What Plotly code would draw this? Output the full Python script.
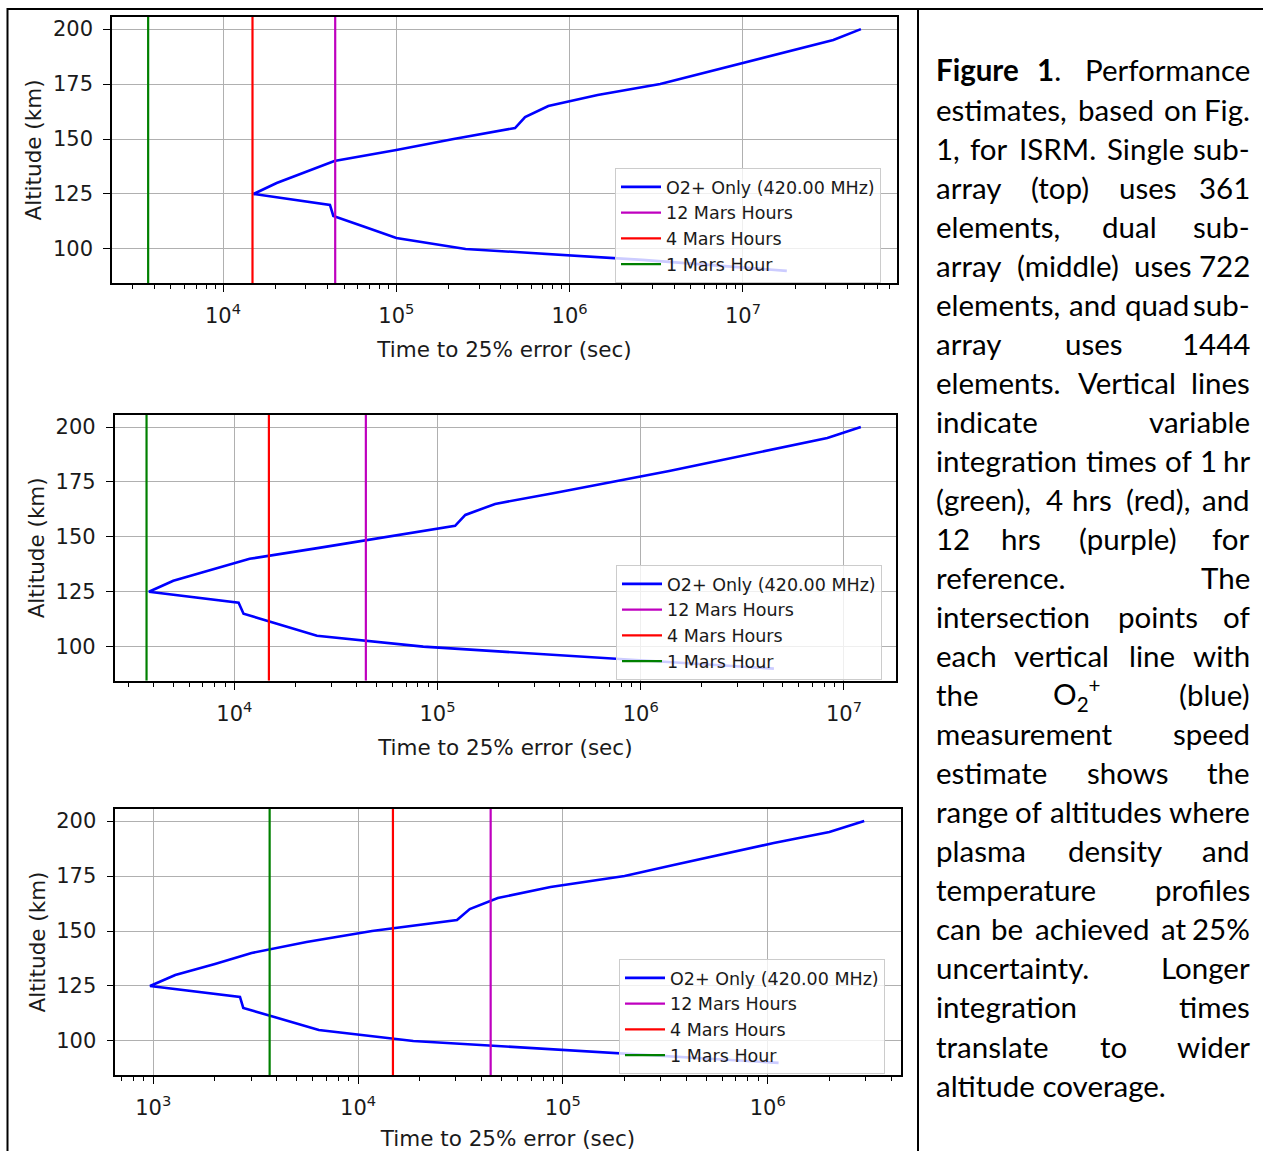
import re
import plotly.graph_objects as go

W, H = 1263, 1151

# ---------------- data ----------------
altitude_km = [90, 95, 100, 105, 110, 115, 120, 125, 130, 135, 140, 145,
               150, 155, 160, 165, 170, 175, 180, 185, 190, 195, 200]

# Time to 25% error (sec) for the three sub-array configurations
time_single_s = [1.79e7, 2.63e6, 2.51e5, 1.0e5, 6.6e4, 4.33e4, 4.14e4, 1.50e4,
                 2.04e4, 3.02e4, 4.39e4, 1.0e5, 2.14e5, 4.84e5, 5.53e5, 7.53e5,
                 1.45e6, 3.33e6, 5.89e6, 1.05e7, 1.86e7, 3.32e7, 4.79e7]
time_dual_s = [4.52e6, 6.03e5, 8.5e4, 2.55e4, 1.68e4, 1.11e4, 1.05e4, 3.80e3,
               5.01e3, 7.76e3, 1.19e4, 2.61e4, 5.75e4, 1.22e5, 1.37e5, 1.92e5,
               3.76e5, 7.35e5, 1.38e6, 2.51e6, 4.57e6, 8.28e6, 1.21e7]
time_quad_s = [1.13e6, 1.41e5, 1.86e4, 6.43e3, 4.21e3, 2.75e3, 2.65e3, 964,
               1.28e3, 2.0e3, 3.02e3, 5.6e3, 1.17e4, 3.04e4, 3.51e4, 4.81e4,
               8.7e4, 2.0e5, 3.47e5, 6.1e5, 1.07e6, 2.0e6, 2.96e6]

series_name = "O2+ Only (420.00 MHz)"
ref_names = ["12 Mars Hours", "4 Mars Hours", "1 Mars Hour"]
ref_times_s = [44388, 14796, 3699]
ref_colors = ["#bf00bf", "#ff0000", "#008000"]

y_tick_vals = [100, 125, 150, 175, 200]
x_tick_exponents = [2, 3, 4, 5, 6, 7, 8]
minor_multipliers = [2, 3, 4, 5, 6, 7, 8, 9]

x_title = "Time to 25% error (sec)"
y_title = "Altitude (km)"

caption_lines = [
    ["<b>Figure</b>", "<b>1</b>.", "Performance"],
    ["estimates,", "based", "on", "Fig."],
    ["1,", "for", "ISRM.", "Single", "sub-"],
    ["array", "(top)", "uses", "361"],
    ["elements,", "dual", "sub-"],
    ["array", "(middle)", "uses", "722"],
    ["elements,", "and", "quad", "sub-"],
    ["array", "uses", "1444"],
    ["elements.", "Vertical", "lines"],
    ["indicate", "variable"],
    ["integration", "times", "of", "1", "hr"],
    ["(green),", "4", "hrs", "(red),", "and"],
    ["12", "hrs", "(purple)", "for"],
    ["reference.", "The"],
    ["intersection", "points", "of"],
    ["each", "vertical", "line", "with"],
    ["the", "O<sub>2</sub><sup>+</sup>", "(blue)"],
    ["measurement", "speed"],
    ["estimate", "shows", "the"],
    ["range", "of", "altitudes", "where"],
    ["plasma", "density", "and"],
    ["temperature", "profiles"],
    ["can", "be", "achieved", "at", "25%"],
    ["uncertainty.", "Longer"],
    ["integration", "times"],
    ["translate", "to", "wider"],
    ["altitude", "coverage."],
]

# ---------------- layout geometry (pixels) ----------------
panels = [
    dict(series=time_single_s, px_x=(112, 897), px_y=(17, 283), xlog=(3.3595, 7.8886), legend_px=(615, 168)),
    dict(series=time_dual_s, px_x=(114.7, 896), px_y=(415, 680.7), xlog=(3.4114, 7.2559), legend_px=(616, 565)),
    dict(series=time_quad_s, px_x=(115.3, 900.7), px_y=(809, 1075), xlog=(2.8145, 6.6494), legend_px=(619, 959)),
]
y_range = [84.5, 205.5]

TICK_FONT = dict(family="DejaVu Sans", size=21, color="#1a1a1a")
LABEL_FONT = dict(family="DejaVu Sans", size=21.5, color="#1a1a1a")
LEGEND_FONT = dict(family="DejaVu Sans", size=17.5, color="#1a1a1a")

fig = go.Figure()
layout = dict(width=W, height=H, margin=dict(l=0, r=0, t=0, b=0),
              paper_bgcolor="white", plot_bgcolor="white", showlegend=True)

major_vals = [10 ** e for e in x_tick_exponents]
major_text = ["10<sup>%d</sup>" % e for e in x_tick_exponents]
minor_vals = [m * 10 ** e for e in x_tick_exponents for m in minor_multipliers]

for i, p in enumerate(panels):
    suffix = "" if i == 0 else str(i + 1)
    xa, ya = "x" + suffix, "y" + suffix
    leg = "legend" + suffix
    fig.add_trace(go.Scatter(x=p["series"], y=altitude_km, mode="lines",
                             line=dict(color="#0000ff", width=2.6),
                             name=series_name, xaxis=xa, yaxis=ya, legend=leg))
    for t, nm, col in zip(ref_times_s, ref_names, ref_colors):
        fig.add_trace(go.Scatter(x=[t, t], y=y_range, mode="lines",
                                 line=dict(color=col, width=2.2),
                                 name=nm, xaxis=xa, yaxis=ya, legend=leg))
    x0, x1 = p["px_x"]
    y0, y1 = p["px_y"]
    layout["xaxis" + suffix] = dict(
        type="log", range=list(p["xlog"]), domain=[x0 / W, x1 / W], anchor=ya,
        showline=True, mirror=True, linecolor="black", linewidth=1.6,
        ticks="outside", ticklen=7, tickwidth=1.3, tickcolor="black",
        tickmode="array", tickvals=major_vals, ticktext=major_text, tickfont=TICK_FONT,
        ticklabelstandoff=6,
        showgrid=True, gridcolor="#b0b0b0", gridwidth=1.2, zeroline=False,
        minor=dict(tickmode="array", tickvals=minor_vals, ticks="outside", ticklen=4,
                   tickwidth=1, tickcolor="black", showgrid=False),
        title=dict(text=x_title, font=LABEL_FONT, standoff=15),
    )
    layout["yaxis" + suffix] = dict(
        range=y_range, domain=[1 - y1 / H, 1 - y0 / H], anchor=xa,
        showline=True, mirror=True, linecolor="black", linewidth=1.6,
        ticks="outside", ticklen=7, tickwidth=1.3, tickcolor="black",
        tickmode="array", tickvals=y_tick_vals, tickfont=TICK_FONT,
        ticklabelstandoff=6,
        showgrid=True, gridcolor="#b0b0b0", gridwidth=1.2, zeroline=False,
        title=dict(text=y_title, font=LABEL_FONT, standoff=5),
    )
    lx, ly = p["legend_px"]
    layout[leg] = dict(x=lx / W, y=1 - ly / H, xanchor="left", yanchor="top",
                       bgcolor="rgba(255,255,255,0.8)", bordercolor="#cccccc",
                       borderwidth=1, font=LEGEND_FONT, itemwidth=40,
                       tracegroupgap=0, traceorder="normal")

# ---------------- table borders ----------------
def hline(px_y, px_x0, px_x1):
    return dict(type="line", xref="paper", yref="paper", x0=px_x0 / W, x1=px_x1 / W,
                y0=1 - px_y / H, y1=1 - px_y / H, line=dict(color="black", width=2))

def vline(px_x, px_y0, px_y1):
    return dict(type="line", xref="paper", yref="paper", x0=px_x / W, x1=px_x / W,
                y0=1 - px_y0 / H, y1=1 - px_y1 / H, line=dict(color="black", width=2))

layout["shapes"] = [hline(9, 7, W), vline(7.5, 8, H), vline(918, 8, H)]

# ---------------- caption (justified, Calibri-like metrics) ----------------
CAL = {' ': 0.226, 'a': 0.479, 'b': 0.525, 'c': 0.423, 'd': 0.525, 'e': 0.498, 'f': 0.305,
       'g': 0.471, 'h': 0.525, 'i': 0.229, 'j': 0.239, 'k': 0.455, 'l': 0.229, 'm': 0.799,
       'n': 0.525, 'o': 0.527, 'p': 0.525, 'q': 0.525, 'r': 0.349, 's': 0.391, 't': 0.335,
       'u': 0.525, 'v': 0.452, 'w': 0.715, 'x': 0.433, 'y': 0.453, 'z': 0.395, 'F': 0.459,
       'I': 0.252, 'L': 0.420, 'M': 0.855, 'O': 0.662, 'P': 0.517, 'R': 0.543, 'S': 0.459,
       'T': 0.487, 'V': 0.567, '.': 0.252, ',': 0.250, '(': 0.303, ')': 0.303, '-': 0.306,
       '%': 0.715, '+': 0.498}
for d in "0123456789":
    CAL[d] = 0.507

def word_em(html):
    total = 0.0
    for m in re.finditer(r'<(sub|sup)>(.*?)</\1>|<[^>]+>|([^<]+)', html):
        if m.group(1):
            total += 0.6 * sum(CAL.get(c, 0.5) for c in m.group(2))
        elif m.group(3):
            total += sum(CAL.get(c, 0.5) for c in m.group(3))
    return total

CAP_L, CAP_R = 934, 1252
CAP_PX = 32
CAP_Y0, CAP_DY = 70, 39.04
CAP_FONT = dict(family="Lato", size=29.5, color="black")

annotations = []
for li, words in enumerate(caption_lines):
    yy = 1 - (CAP_Y0 + li * CAP_DY) / H
    if li == len(caption_lines) - 1:
        annotations.append(dict(text=" ".join(words), x=CAP_L / W, y=yy, xref="paper", yref="paper",
                                xanchor="left", yanchor="middle", showarrow=False, font=CAP_FONT))
        continue
    widths = [word_em(w) * CAP_PX for w in words]
    gap = (CAP_R - CAP_L - sum(widths)) / (len(words) - 1)
    xpos = CAP_L
    for k, (w, wd) in enumerate(zip(words, widths)):
        if k == 0:
            ax, anc = CAP_L, "left"
        elif k == len(words) - 1:
            ax, anc = CAP_R, "right"
        else:
            ax, anc = xpos + wd / 2, "center"
        annotations.append(dict(text=w, x=ax / W, y=yy, xref="paper", yref="paper",
                                xanchor=anc, yanchor="middle", showarrow=False, font=CAP_FONT))
        xpos += wd + gap

layout["annotations"] = annotations
fig.update_layout(**layout)

fig.write_html("out.html", config={"displayModeBar": False},
               post_script="document.body.style.margin='0px';")
